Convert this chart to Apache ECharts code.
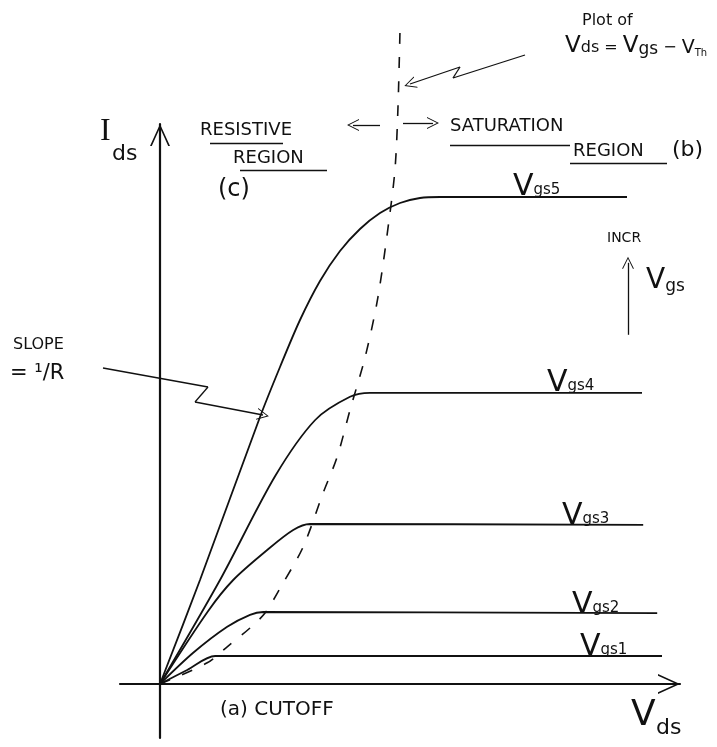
<!DOCTYPE html>
<html><head><meta charset="utf-8">
<script src="https://cdn.jsdelivr.net/npm/echarts@6/dist/echarts.min.js"></script>
<style>html,body{margin:0;padding:0;background:#fff}#main{width:717px;height:747px}</style>
</head><body><div id="main"></div>
<script>
// ---- curve data (Vds, Ids) in arbitrary units ----
const vgs1 = [[0,0],[0.68,0.35],[1.38,0.7],[12.55,0.7]];
const vgs2 = [[0,0],[0.83,0.78],[1.68,1.43],[2.25,1.73],[2.58,1.8],[12.43,1.77]];
const vgs3 = [[0,0],[1.2,1.82],[1.83,2.6],[2.68,3.35],[3.33,3.85],[3.75,4.0],[12.08,3.98]];
const vgs4 = [[0,0],[1.5,2.6],[2.88,5.2],[3.88,6.6],[4.75,7.18],[5.25,7.28],[12.05,7.28]];
const vgs5 = [[0,0],[1.0,2.6],[2.5,6.675],[3.0,7.925],[3.5,9.1],[4.0,10.075],[4.5,10.825],[5.0,11.375],[5.5,11.775],[6.0,12.025],[6.5,12.15],[7.0,12.175],[11.675,12.175]];
// Vds = Vgs - Vth boundary (dashed)
const boundary = [[0,0],[1.18,0.53],[1.68,0.93],[2.25,1.4],[2.63,1.78],[3.08,2.53],[3.58,3.43],[4.08,4.78],[4.43,5.68],[4.75,6.85],[5.13,8.18],[5.45,9.68],[5.75,11.78],[5.88,12.93],[5.95,14.43],[6.0,16.35]];
const curveNames = ['Vgs1','Vgs2','Vgs3','Vgs4','Vgs5'];

// ---- annotation strokes, same units ----
const slopeArrowPath = [[-1.425,7.9],[1.2,7.425],[0.875,7.05],[2.575,6.725]];
const plotArrowPath = [[9.125,15.725],[7.325,15.15],[7.5,15.425],[6.25,15.0]];
const regionArrows = [[[5.5,13.975],[4.825,13.975]],[[6.075,14.025],[6.825,14.025]]];
const incrArrow = [[11.7,8.73],[11.7,10.53]];
const underlines = [[[1.25,13.525],[3.075,13.525]],[[2.0,12.85],[4.175,12.85]],[[7.25,13.475],[10.25,13.475]],[[10.25,13.025],[12.675,13.025]]];

const INK = '#111';
const FONT = 'DejaVu Sans';
const chevron = 'path://M0,22 L10,0 L20,22 L18.2,22 L10,3.8 L1.8,22 Z';

function segs(path){const o=[];for(let i=0;i<path.length-1;i++)o.push([path[i],path[i+1]]);return o;}
const plainSegs = underlines.concat(segs(slopeArrowPath).slice(0,-1), segs(plotArrowPath).slice(0,-1));
const arrowSegs = segs(slopeArrowPath).slice(-1).concat(segs(plotArrowPath).slice(-1), regionArrows, [incrArrow]);

const chart = echarts.init(document.getElementById('main'), null, {renderer:'canvas'});

const curves = [vgs1,vgs2,vgs3,vgs4,vgs5].map((d,i)=>({
  name: curveNames[i], type:'line', xAxisIndex:0, yAxisIndex:0, data:d,
  showSymbol:false, symbol:'none', smooth:0.3, clip:false,
  lineStyle:{color:INK, width:1.8}, silent:true
}));

function txt(x,y,text,size,extra){
  return Object.assign({type:'text', x:x, y:y, silent:true,
    style:{text:text, font: size+'px "'+FONT+'"', fill:INK, verticalAlign:'top'}}, extra||{});
}
function vlabel(x,y,sub){
  return {type:'text', x:x, y:y, silent:true, style:{
    text:'{v|V}{s|'+sub+'}', verticalAlign:'bottom', fill:INK,
    rich:{v:{font:'30px "'+FONT+'"', fill:INK, verticalAlign:'bottom'},
          s:{font:'15px "'+FONT+'"', fill:INK, verticalAlign:'bottom', padding:[0,0,4,0]}}}};
}

chart.setOption({
  backgroundColor:'#fff',
  animation:false,
  grid:[
    {left:120, top:124, width:560, height:614},
    {left:0, top:0, width:717, height:747}
  ],
  xAxis:[
    {gridIndex:0, type:'value', min:-1, max:13,
     axisLine:{onZero:true, symbol:['none', chevron], symbolSize:[20,22], symbolOffset:[0,-11], lineStyle:{color:INK, width:2.2}},
     axisTick:{show:false}, axisLabel:{show:false}, splitLine:{show:false}},
    {gridIndex:1, type:'value', min:-4, max:13.925, show:false, splitLine:{show:false}}
  ],
  yAxis:[
    {gridIndex:0, type:'value', min:-1.35, max:14,
     axisLine:{onZero:true, symbol:['none', chevron], symbolSize:[20,22], symbolOffset:[0,-11], lineStyle:{color:INK, width:2.2}},
     axisTick:{show:false}, axisLabel:{show:false}, splitLine:{show:false}},
    {gridIndex:1, type:'value', min:-1.575, max:17.1, show:false, splitLine:{show:false}}
  ],
  series: curves.concat([
    {name:'Vds = Vgs - Vth', type:'line', xAxisIndex:0, yAxisIndex:0, data:boundary,
     showSymbol:false, symbol:'none', smooth:0.3, clip:false, silent:true,
     lineStyle:{color:INK, width:1.6, type:[11,13]}},
    {type:'lines', coordinateSystem:'cartesian2d', xAxisIndex:1, yAxisIndex:1, silent:true,
     data: plainSegs.map(c=>({coords:c})), symbol:['none','none'],
     lineStyle:{color:INK, width:1.3, opacity:1, curveness:0}},
    {type:'lines', coordinateSystem:'cartesian2d', xAxisIndex:1, yAxisIndex:1, silent:true,
     data: arrowSegs.map(c=>({coords:c})), symbol:['none', chevron], symbolSize:[11,12],
     lineStyle:{color:INK, width:1.3, opacity:1, curveness:0}}
  ]),
  graphic:[
    txt(582,13,'Plot of',16),
    {type:'text', x:565, y:58, silent:true, style:{
      text:'{v|V}{m|ds = }{v|V}{s|gs}{m| − }{w|V}{t|Th}', verticalAlign:'bottom', fill:INK,
      rich:{v:{font:'23px "'+FONT+'"', fill:INK, verticalAlign:'bottom'},
            m:{font:'16px "'+FONT+'"', fill:INK, verticalAlign:'bottom', padding:[0,0,2,0]},
            s:{font:'17px "'+FONT+'"', fill:INK, verticalAlign:'bottom'},
            w:{font:'19px "'+FONT+'"', fill:INK, verticalAlign:'bottom'},
            t:{font:'10px "'+FONT+'"', fill:INK, verticalAlign:'bottom'}}}},
    txt(200,121,'RESISTIVE',18),
    txt(233,149,'REGION',18),
    txt(218,178,'(c)',24),
    txt(450,117,'SATURATION',18),
    txt(573,142,'REGION',18),
    txt(672,139,'(b)',22),
    {type:'text', x:100, y:116, silent:true, style:{text:'I', font:'32px "Liberation Serif"', fill:INK, verticalAlign:'top'}},
    txt(112,143,'ds',22),
    vlabel(513,202,'gs5'),
    vlabel(547,398,'gs4'),
    vlabel(562,531,'gs3'),
    vlabel(572,620,'gs2'),
    vlabel(580,662,'gs1'),
    txt(607,231,'INCR',14),
    {type:'text', x:646, y:295, silent:true, style:{
      text:'{v|V}{s|gs}', verticalAlign:'bottom', fill:INK,
      rich:{v:{font:'28px "'+FONT+'"', fill:INK, verticalAlign:'bottom'},
            s:{font:'17px "'+FONT+'"', fill:INK, verticalAlign:'bottom'}}}},
    txt(13,337,'SLOPE',16),
    txt(10,363,'= ¹/R',21),
    txt(220,700,'(a) CUTOFF',20),
    txt(631,698,'V',36),
    txt(656,717,'ds',22)
  ]
});
</script></body></html>
